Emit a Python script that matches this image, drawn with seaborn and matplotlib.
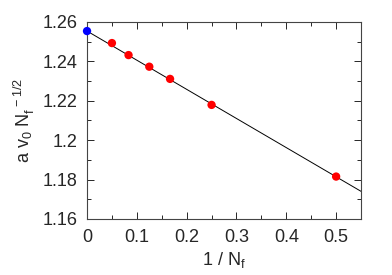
import numpy as np
import pandas as pd
import seaborn as sns
import matplotlib.pyplot as plt
from matplotlib.ticker import MultipleLocator

# data
inv_nf = [0.05, 1 / 12, 1 / 8, 1 / 6, 1 / 4, 1 / 2]
scaled_v = [1.2493, 1.2432, 1.2373, 1.2311, 1.2179, 1.1815]
extrap_x = [0.0]
extrap_y = [1.2554]
fit_intercept = 1.2554
fit_slope = -0.148

sns.set_style("ticks")
plt.rcParams['font.family'] = ['Liberation Sans', 'DejaVu Sans']
plt.rcParams['mathtext.fontset'] = 'custom'
plt.rcParams['mathtext.rm'] = 'Liberation Sans'

fig, ax = plt.subplots(figsize=(3.92, 2.75), dpi=100)
fig.subplots_adjust(left=0.222, right=0.921, top=0.92, bottom=0.204)

xfit = np.array([0.0, 0.55])
fit = pd.DataFrame({'x': xfit, 'y': fit_intercept + fit_slope * xfit})
sns.lineplot(data=fit, x='x', y='y', color='black', lw=0.7, ax=ax)

pts = pd.DataFrame({'x': inv_nf, 'y': scaled_v})
sns.scatterplot(data=pts, x='x', y='y', color='red', s=36, edgecolor='none', ax=ax, zorder=3)
ext = pd.DataFrame({'x': extrap_x, 'y': extrap_y})
sns.scatterplot(data=ext, x='x', y='y', color='blue', s=36, edgecolor='none', ax=ax, zorder=3, clip_on=False)

ax.set_xlim(0, 0.55)
ax.set_ylim(1.16, 1.26)
ax.xaxis.set_minor_locator(MultipleLocator(0.05))
ax.yaxis.set_minor_locator(MultipleLocator(0.01))
ax.set_xticks([0, 0.1, 0.2, 0.3, 0.4, 0.5])
ax.set_xticklabels(['0', '0.1', '0.2', '0.3', '0.4', '0.5'])
ax.set_yticks([1.16, 1.18, 1.2, 1.22, 1.24, 1.26])
ax.set_yticklabels(['1.16', '1.18', '1.2', '1.22', '1.24', '1.26'])
ax.tick_params(which='both', direction='in', top=True, right=True, labelsize=13, width=0.7, pad=7)
ax.tick_params(which='major', length=5)
ax.tick_params(which='minor', length=3)
for s in ax.spines.values():
    s.set_linewidth(0.8)
    s.set_color('#444444')

ax.set_xlabel(r'1 / N$_{\mathregular{f}}$', fontsize=13, labelpad=3)
ax.set_ylabel(r'a v$_{\mathregular{0}}$ N$_{\mathregular{f}}^{\mathregular{\ -1/2}}$', fontsize=13, labelpad=4)

fig.savefig('out.png', dpi=100)
